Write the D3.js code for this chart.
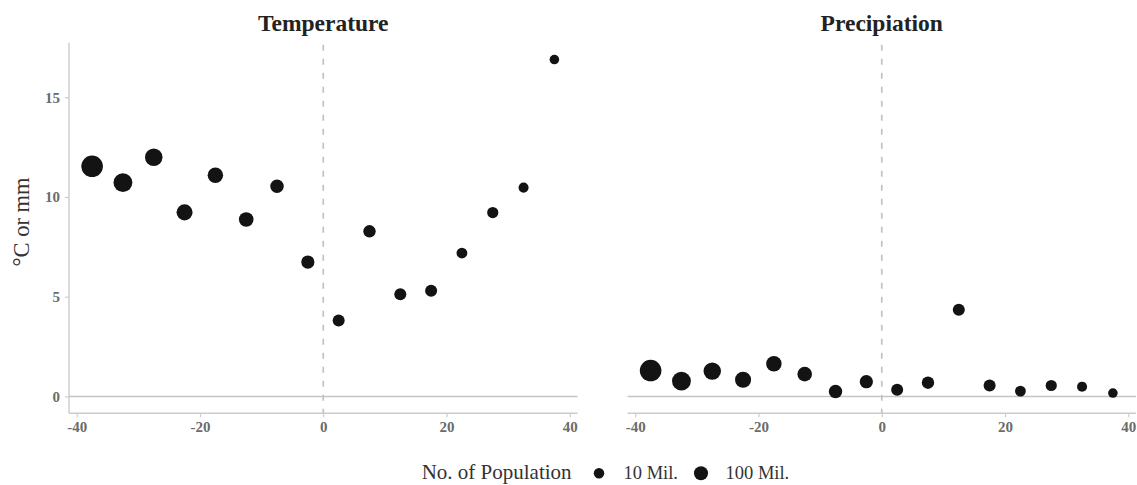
<!DOCTYPE html>
<html>
<head>
<meta charset="utf-8">
<script src="https://cdn.jsdelivr.net/npm/d3@7"></script>
<style>
  html, body { margin: 0; padding: 0; background: #fff; }
  svg { display: block; }
  text { font-family: "Liberation Serif", "Times New Roman", serif; }
</style>
</head>
<body>
<svg id="chart" width="1137" height="485"></svg>
<script>
// ---- data ----
const bins = [-37.5, -32.5, -27.5, -22.5, -17.5, -12.5, -7.5, -2.5, 2.5, 7.5, 12.5, 17.5, 22.5, 27.5, 32.5, 37.5];
const temperature = [11.54, 10.72, 11.99, 9.23, 11.09, 8.87, 10.54, 6.74, 3.81, 8.28, 5.12, 5.30, 7.19, 9.22, 10.47, 16.89];
const precipitation = [1.30, 0.77, 1.27, 0.84, 1.64, 1.12, 0.25, 0.74, 0.34, 0.69, 4.35, 0.55, 0.27, 0.55, 0.49, 0.17];
const population = [690, 417, 301, 205, 169, 127, 76, 69, 34, 44, 34, 34, 13, 18, 7, 6]; // millions
const panelTitles = ["Temperature", "Precipiation"];
const xTicks = [-40, -20, 0, 20, 40];
const yTicks = [0, 5, 10, 15];
const legendBreaks = [10, 100];
const legendLabels = ["10 Mil.", "100 Mil."];

// ---- layout ----
const svg = d3.select("#chart");
const plotTop = 42.7, plotBottom = 413.3;
const panels = [{x0: 69, x1: 577.5}, {x0: 627.5, x1: 1136}];
const series = [temperature, precipitation];

const xDomain = [-41.25, 41.25];
const yMax = d3.max([...temperature, ...precipitation]);
const yMin = 0;
const yPad = (yMax - yMin) * 0.05;
const y = d3.scaleLinear().domain([yMin - yPad, yMax + yPad]).range([plotBottom, plotTop]);

const popExt = d3.extent(population);
const rLin = d3.scaleLinear().domain([0, 1]).range([4.8, 10.8]);
const rScale = p => rLin(Math.sqrt(Math.max(0, (p - popExt[0]) / (popExt[1] - popExt[0]))));

const axisColor = "#cccccc";
const tickTextColor = "#6b6b6b";
const pointColor = "#131313";
const serif = "'Liberation Serif', serif";

panels.forEach((pn, i) => {
  const x = d3.scaleLinear().domain(xDomain).range([pn.x0, pn.x1]);
  const g = svg.append("g");

  // title
  g.append("text")
    .attr("x", (pn.x0 + pn.x1) / 2).attr("y", 30.5)
    .attr("text-anchor", "middle")
    .attr("font-size", 23.5).attr("font-weight", "bold")
    .attr("fill", "#222")
    .text(panelTitles[i]);

  // x axis
  const xAxis = d3.axisBottom(x).tickValues(xTicks).tickSize(4).tickPadding(4).tickFormat(d3.format("d"));
  const xa = g.append("g").attr("transform", `translate(0,${plotBottom})`).call(xAxis)
    .attr("font-family", serif).attr("font-size", 15);
  xa.select(".domain").attr("d", `M${pn.x0},0H${pn.x1}`).attr("stroke", axisColor).attr("stroke-width", 1.4);
  xa.selectAll(".tick line").attr("stroke", axisColor).attr("stroke-width", 1.2);
  xa.selectAll(".tick text")
    .attr("font-weight", "bold")
    .attr("fill", tickTextColor)
    .text(d => d < 0 ? "-" + Math.abs(d) : d);

  // y axis on first panel only
  if (i === 0) {
    const yAxis = d3.axisLeft(y).tickValues(yTicks).tickSize(4).tickPadding(5);
    const ya = g.append("g").attr("transform", `translate(${pn.x0},0)`).call(yAxis)
      .attr("font-family", serif).attr("font-size", 15);
    ya.select(".domain").attr("d", `M0,${plotTop}V${plotBottom}`).attr("stroke", axisColor).attr("stroke-width", 1.4);
    ya.selectAll(".tick line").attr("stroke", axisColor).attr("stroke-width", 1.2);
    ya.selectAll(".tick text")
      .attr("font-weight", "bold")
      .attr("fill", tickTextColor);
  }

  // zero reference line
  g.append("line")
    .attr("x1", pn.x0).attr("x2", pn.x1)
    .attr("y1", y(0)).attr("y2", y(0))
    .attr("stroke", "#c4c4c4").attr("stroke-width", 1.5);

  // dashed vertical line at 0
  g.append("line")
    .attr("x1", x(0)).attr("x2", x(0))
    .attr("y1", plotTop).attr("y2", plotBottom)
    .attr("stroke", "#c2c2c2").attr("stroke-width", 1.7)
    .attr("stroke-dasharray", "6,8")
    .attr("stroke-dashoffset", -2);

  // points
  const data = bins.map((b, j) => ({x: b, v: series[i][j], p: population[j]}));
  g.selectAll("circle.pt").data(data).enter().append("circle")
    .attr("class", "pt")
    .attr("cx", d => x(d.x)).attr("cy", d => y(d.v))
    .attr("r", d => rScale(d.p))
    .attr("fill", pointColor);
});

// y title
svg.append("text")
  .attr("transform", `translate(29,222) rotate(-90)`)
  .attr("text-anchor", "middle")
  .attr("font-size", 22.5).attr("fill", "#333")
  .text("°C or mm");

// legend
const lg = svg.append("g");
lg.append("text").attr("x", 421.7).attr("y", 479).attr("font-size", 21).attr("fill", "#333").text("No. of Population");
const legendX = [599, 701];
legendBreaks.forEach((b, k) => {
  lg.append("circle").attr("cx", legendX[k]).attr("cy", 473.3).attr("r", rScale(b)).attr("fill", pointColor);
  lg.append("text").attr("x", legendX[k] + 24.5).attr("y", 478.5).attr("font-size", 18.5).attr("fill", "#333").text(legendLabels[k]);
});
</script>
</body>
</html>
